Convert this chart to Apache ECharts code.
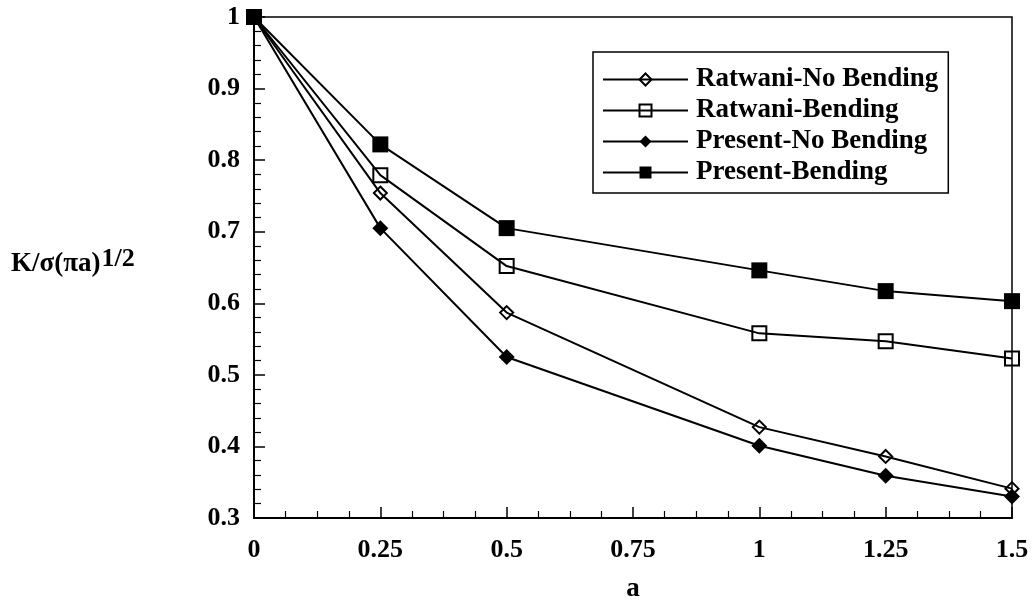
<!DOCTYPE html>
<html>
<head>
<meta charset="utf-8">
<script src="https://cdn.jsdelivr.net/npm/echarts@6/dist/echarts.min.js"></script>
<style>
html,body{margin:0;padding:0;background:#fff;}
#c{width:1036px;height:602px;}
</style>
</head>
<body>
<div id="c"></div>
<script>
const xValues = [0, 0.25, 0.5, 1, 1.25, 1.5];
const ratwaniNoBending = [1, 0.754, 0.587, 0.427, 0.386, 0.341];
const ratwaniBending = [1, 0.779, 0.652, 0.558, 0.547, 0.523];
const presentNoBending = [1, 0.705, 0.525, 0.401, 0.359, 0.330];
const presentBending = [1, 0.822, 0.705, 0.646, 0.617, 0.603];
const seriesNames = ['Ratwani-No Bending', 'Ratwani-Bending', 'Present-No Bending', 'Present-Bending'];
const xAxisName = 'a';

const FONT = '"Liberation Serif", "Times New Roman", serif';
const pairs = arr => xValues.map((x, i) => [x, arr[i]]);

function mkSeries(name, arr, symbol, size, filled) {
  return {
    name: name,
    type: 'line',
    data: pairs(arr),
    symbol: symbol,
    symbolSize: size,
    showAllSymbol: true,
    lineStyle: {color: '#000', width: 2},
    itemStyle: filled
      ? {color: '#000', borderColor: '#000', borderWidth: 0}
      : {color: 'rgba(255,255,255,0)', borderColor: '#000', borderWidth: 2},
    emphasis: {disabled: true},
    z: 3
  };
}

const chart = echarts.init(document.getElementById('c'));
chart.setOption({
  animation: false,
  backgroundColor: '#fff',
  grid: {left: 254, right: 24, top: 17, bottom: 84, show: true, borderColor: '#000', borderWidth: 1.5,
    containLabel: false, outerBoundsMode: 'none'},
  legend: {
    left: 593, top: 52,
    orient: 'vertical',
    data: seriesNames,
    itemWidth: 85, itemHeight: 15, itemGap: 4,
    padding: [14, 10, 7, 9],
    borderColor: '#000', borderWidth: 1.5,
    backgroundColor: '#fff',
    selectedMode: false,
    textStyle: {fontFamily: FONT, fontWeight: 'bold', fontSize: 27, color: '#000', lineHeight: 27, padding: [0, 0, 0, 3]}
  },
  xAxis: {
    type: 'value', min: 0, max: 1.5, interval: 0.25,
    name: xAxisName, nameLocation: 'middle', nameGap: 58,
    nameTextStyle: {fontFamily: FONT, fontWeight: 'bold', fontSize: 27, color: '#000'},
    axisLine: {show: true, onZero: false, lineStyle: {color: '#000', width: 2}},
    axisTick: {show: true, inside: true, length: 11, lineStyle: {color: '#000', width: 1.5}},
    minorTick: {show: true, splitNumber: 4, length: 7, lineStyle: {color: '#000', width: 1.2}},
    splitLine: {show: false},
    axisLabel: {fontFamily: FONT, fontWeight: 'bold', fontSize: 26, color: '#000', margin: 19}
  },
  yAxis: {
    type: 'value', min: 0.3, max: 1, interval: 0.1,
    axisLine: {show: true, onZero: false, lineStyle: {color: '#000', width: 2}},
    axisTick: {show: true, inside: true, length: 11, lineStyle: {color: '#000', width: 1.5}},
    minorTick: {show: true, splitNumber: 5, length: 7, lineStyle: {color: '#000', width: 1.2}},
    splitLine: {show: false},
    axisLabel: {fontFamily: FONT, fontWeight: 'bold', fontSize: 26, color: '#000', margin: 14,
      formatter: v => String(Math.round(v * 10) / 10)}
  },
  graphic: [{
    type: 'text', left: 11, top: 246,
    style: {
      text: '{m|K/σ(πa)}{s|1/2}',
      rich: {
        m: {fontFamily: FONT, fontWeight: 'bold', fontSize: 27, fill: '#000', verticalAlign: 'bottom', lineHeight: 32},
        s: {fontFamily: FONT, fontWeight: 'bold', fontSize: 26, fill: '#000', verticalAlign: 'top', lineHeight: 32, padding: [0, 0, 12, 1]}
      }
    }
  }],
  series: [
    mkSeries(seriesNames[0], ratwaniNoBending, 'diamond', 13, false),
    mkSeries(seriesNames[1], ratwaniBending, 'rect', 14, false),
    mkSeries(seriesNames[2], presentNoBending, 'diamond', 16, true),
    mkSeries(seriesNames[3], presentBending, 'rect', 16, true)
  ]
});
</script>
</body>
</html>
